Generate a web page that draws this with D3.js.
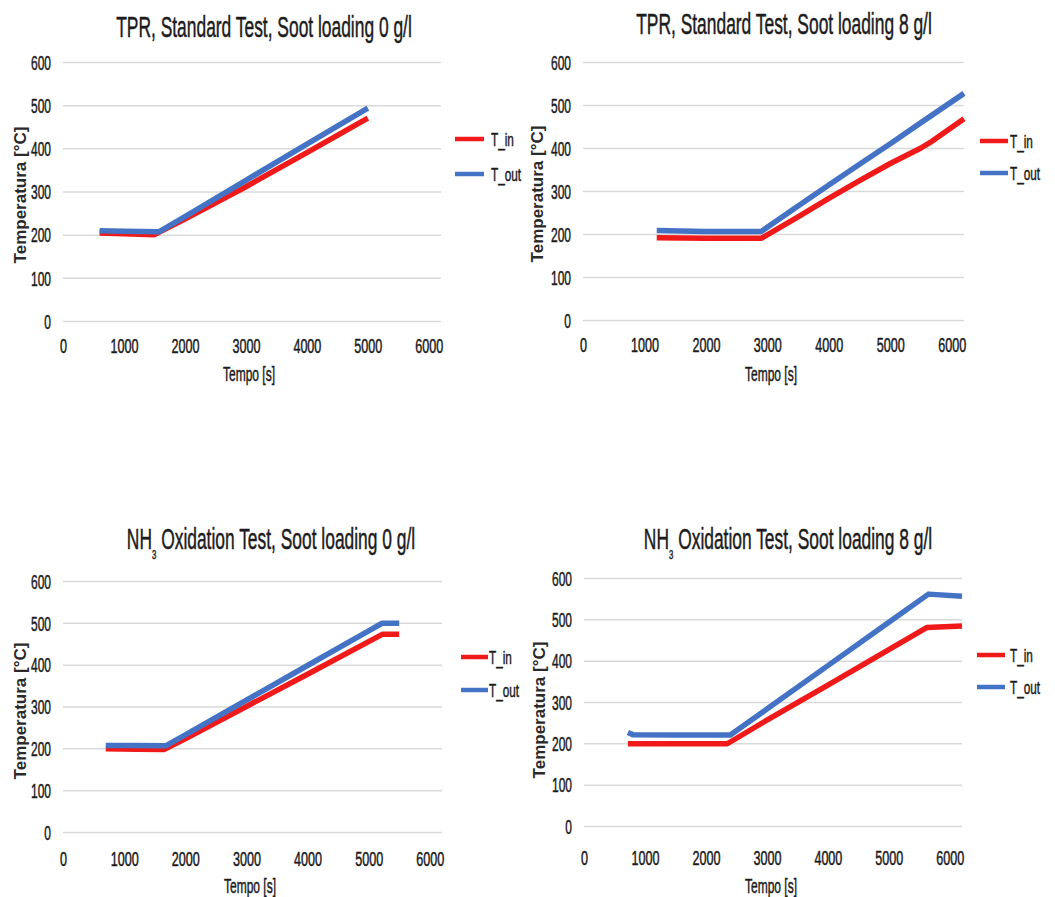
<!DOCTYPE html>
<html>
<head>
<meta charset="utf-8">
<script src="https://cdn.jsdelivr.net/npm/d3@7"></script>
<style>
  html, body { margin: 0; padding: 0; background: #ffffff; }
  svg { display: block; font-family: "Liberation Sans", Arial, sans-serif; }
  .txt { stroke: #1c1c1c; stroke-width: 0.5px; }
</style>
</head>
<body>
<svg id="chart" width="1055" height="897"></svg>
<script>
// ---- Data: time [s] and temperature [°C] readings for each test ----
const xTicks = [0, 1000, 2000, 3000, 4000, 5000, 6000];
const yTicks = [0, 100, 200, 300, 400, 500, 600];
const seriesNames = ["T_in", "T_out"];

// TPR, standard test, soot loading 0 g/l
const tpr0InTime  = [600, 1000, 1500, 2000, 3000, 4000, 5000];
const tpr0InTemp  = [204, 202, 200, 236, 311, 390, 470];
const tpr0OutTime = [600, 1000, 1580, 2000, 3000, 4000, 5000];
const tpr0OutTemp = [209, 208, 207, 242, 326, 410, 493];

// TPR, standard test, soot loading 8 g/l
const tpr8InTime  = [1200, 2000, 2900, 3500, 4000, 4500, 5000, 5500, 5650, 6200];
const tpr8InTemp  = [191, 190, 190, 240, 283, 324, 364, 400, 413, 468];
const tpr8OutTime = [1200, 2000, 2900, 3500, 4000, 4500, 5000, 5500, 6200];
const tpr8OutTemp = [208, 206, 206, 265, 314, 362, 410, 459, 527];

// NH3 oxidation test, soot loading 0 g/l
const nh0InTime  = [700, 1200, 1650, 2000, 3000, 4000, 5000, 5230, 5500];
const nh0InTemp  = [199, 198, 197, 223, 300, 377, 455, 473, 473];
const nh0OutTime = [700, 1200, 1680, 2000, 3000, 4000, 5000, 5220, 5500];
const nh0OutTemp = [207, 207, 206, 232, 315, 398, 481, 499, 499];

// NH3 oxidation test, soot loading 8 g/l
const nh8InTime  = [720, 1500, 2350, 3000, 4000, 5000, 5620, 6200];
const nh8InTemp  = [199, 199, 199, 256, 341, 427, 480, 484];
const nh8OutTime = [720, 800, 1500, 2400, 3000, 4000, 5000, 5650, 6200];
const nh8OutTemp = [226, 221, 220, 220, 283, 388, 493, 561, 556];

const seriesColors = ["#f01a1a", "#4472c4"];

// ---- Layout for the four panels ----
const panels = [
  { title: ["TPR, Standard Test, Soot loading 0 g/l"],
    inT: tpr0InTime, inV: tpr0InTemp, outT: tpr0OutTime, outV: tpr0OutTemp,
    x0: 63, x1: 441, yB: 321, yT: 62, xTickY: 353,
    titleX: 264, titleY: 37, xTitleX: 249, xTitleY: 381, yTitleX: 26, yTitleY: 195,
    lgL0: 455, lgL1: 484, lgT: 491, lgY: [139, 174] },
  { title: ["TPR, Standard Test, Soot loading 8 g/l"],
    inT: tpr8InTime, inV: tpr8InTemp, outT: tpr8OutTime, outV: tpr8OutTemp,
    x0: 583, x1: 964, yB: 320, yT: 62, xTickY: 352,
    titleX: 784, titleY: 34, xTitleX: 771, xTitleY: 381, yTitleX: 543, yTitleY: 194,
    lgL0: 980, lgL1: 1008, lgT: 1010, lgY: [141, 173] },
  { title: ["NH", "3", " Oxidation Test, Soot loading 0 g/l"],
    inT: nh0InTime, inV: nh0InTemp, outT: nh0OutTime, outV: nh0OutTemp,
    x0: 63, x1: 442, yB: 832, yT: 581, xTickY: 866,
    titleX: 271, titleY: 549, xTitleX: 250, xTitleY: 893, yTitleX: 26, yTitleY: 711,
    lgL0: 461, lgL1: 488, lgT: 489, lgY: [657, 690] },
  { title: ["NH", "3", " Oxidation Test, Soot loading 8 g/l"],
    inT: nh8InTime, inV: nh8InTemp, outT: nh8OutTime, outV: nh8OutTemp,
    x0: 584, x1: 962, yB: 826, yT: 578, xTickY: 865,
    titleX: 788, titleY: 549, xTitleX: 771, xTitleY: 893, yTitleX: 545, yTitleY: 710,
    lgL0: 977, lgL1: 1005, lgT: 1010, lgY: [655, 687] }
];

const SX = 0.6;           // horizontal condensing of the narrow typeface
const textColor = "#1c1c1c";
const svg = d3.select("#chart");

function narrowText(g, x, y, str, size, anchor, sx) {
  return g.append("text")
    .attr("class", "txt")
    .attr("transform", `translate(${x},${y}) scale(${sx},1)`)
    .attr("text-anchor", anchor)
    .attr("font-size", size)
    .attr("fill", textColor)
    .text(str);
}

panels.forEach(p => {
  const g = svg.append("g");
  const x = d3.scaleLinear().domain([0, 6200]).range([p.x0, p.x1]);
  const y = d3.scaleLinear().domain([0, 600]).range([p.yB, p.yT]);

  // horizontal gridlines with value labels
  const yAxis = g.append("g")
    .attr("transform", `translate(${p.x0},0)`)
    .call(d3.axisLeft(y).tickValues(yTicks).tickSize(-(p.x1 - p.x0)).tickPadding(12).tickFormat(d3.format("d")));
  yAxis.select(".domain").remove();
  yAxis.selectAll(".tick line").attr("stroke", "#d9d9d9").attr("stroke-width", 1.5);
  yAxis.selectAll(".tick text")
    .attr("class", "txt")
    .attr("font-size", 20).attr("fill", textColor)
    .attr("font-family", "Liberation Sans, Arial, sans-serif")
    .attr("x", -12 / SX).attr("dy", "0.36em")
    .attr("transform", `scale(${SX},1)`);

  // time labels under the plot
  const xAxis = g.append("g")
    .attr("transform", `translate(0,${p.xTickY})`)
    .call(d3.axisBottom(x).tickValues(xTicks).tickSize(0).tickPadding(0).tickFormat(d3.format("d")));
  xAxis.select(".domain").remove();
  xAxis.selectAll(".tick text")
    .attr("class", "txt")
    .attr("font-size", 21).attr("fill", textColor)
    .attr("font-family", "Liberation Sans, Arial, sans-serif")
    .attr("y", 0).attr("dy", 0)
    .attr("transform", `scale(${SX},1)`);

  // title
  const tt = g.append("text")
    .attr("class", "txt")
    .attr("transform", `translate(${p.titleX},${p.titleY}) scale(${SX},1)`)
    .attr("text-anchor", "middle").attr("font-size", 29).attr("fill", textColor);
  if (p.title.length === 1) {
    tt.text(p.title[0]);
  } else {
    tt.append("tspan").text(p.title[0]);
    tt.append("tspan").attr("font-size", 13).attr("dy", 10).text(p.title[1]);
    tt.append("tspan").attr("dy", -10).text(p.title[2]);
  }

  // axis titles
  narrowText(g, p.xTitleX, p.xTitleY, "Tempo [s]", 20, "middle", SX);
  g.append("text")
    .attr("transform", `translate(${p.yTitleX},${p.yTitleY}) rotate(-90)`)
    .attr("text-anchor", "middle").attr("font-size", 17).attr("font-weight", "bold")
    .attr("fill", "#2a2a2a")
    .text("Temperatura [°C]");

  // temperature traces
  const line = d3.line().x(d => x(d[0])).y(d => y(d[1]));
  const data = [
    d3.zip(p.inT, p.inV),
    d3.zip(p.outT, p.outV)
  ];
  data.forEach((pts, i) => {
    g.append("path")
      .datum(pts)
      .attr("d", line)
      .attr("fill", "none")
      .attr("stroke", seriesColors[i])
      .attr("stroke-width", 5.5)
      .attr("stroke-linejoin", "round");
  });

  // legend
  seriesNames.forEach((name, i) => {
    g.append("line")
      .attr("x1", p.lgL0).attr("x2", p.lgL1)
      .attr("y1", p.lgY[i]).attr("y2", p.lgY[i])
      .attr("stroke", seriesColors[i]).attr("stroke-width", 4.5);
    narrowText(g, p.lgT, p.lgY[i] + 7, name, 19, "start", 0.62);
  });
});
</script>
</body>
</html>
